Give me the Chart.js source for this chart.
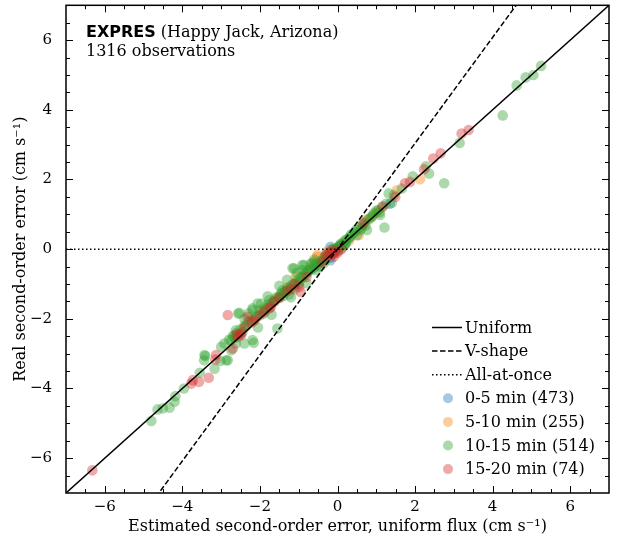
<!DOCTYPE html>
<html lang="en">
<head>
<meta charset="UTF-8">
<script src="https://cdn.jsdelivr.net/npm/chart.js"></script>
<style>
  html, body { margin: 0; padding: 0; background: #fff; }
</style>
</head>
<body>
<canvas id="chart" width="618" height="541"></canvas>
<script>
// data: [estimated, real] in cm/s
const blue = [[-0.18, 0.07], [-0.18, -0.32], [-0.1, -0.1], [0.0, 0.02], [0.05, 0.1], [-0.2, -0.25],
  [0.1, 0.12], [-0.05, -0.02], [1.35, 1.3], [-0.3, -0.22], [0.2, 0.15]];
const orange = [[2.13, 2.01], [1.53, 1.69], [0.89, 0.93], [0.55, 0.4], [-0.52, -0.17], [-0.52, -0.22],
  [-1.08, -0.8], [-0.35, -0.3], [0.3, 0.25], [-0.7, -0.55], [-0.25, -0.05], [1.0, 1.05],
  [-1.5, -1.35], [-1.9, -1.7], [-2.2, -2.05], [-0.9, -0.75], [0.15, 0.2], [-1.3, -1.1],
  [-0.6, -0.35], [0.75, 0.85]];
const green = [
  // centre
  [-0.4, -0.35], [-0.3, -0.28], [-0.25, -0.2], [-0.2, -0.15], [-0.15, -0.12], [-0.1, -0.05],
  [-0.05, 0.0], [0.0, 0.03], [0.05, 0.08], [0.1, 0.1], [0.15, 0.17], [0.2, 0.26], [0.25, 0.28],
  [0.3, 0.33], [-0.35, -0.4], [-0.45, -0.5], [0.12, 0.05], [0.02, -0.05], [-0.08, 0.02], [0.18, 0.12],
  [-0.28, -0.12], [-0.15, 0.0], [0.08, 0.15], [0.22, 0.18],
  // negative side
  [-1.12, -0.55], [-0.86, -0.46], [-0.65, -0.41], [-0.99, -0.94], [-1.29, -1.13], [-1.46, -1.27],
  [-1.97, -1.56], [-2.19, -1.75], [-2.53, -1.83], [-2.02, -1.75], [-1.55, -2.28], [-2.62, -2.33],
  [-2.19, -2.61], [-2.92, -2.71], [-3.43, -3.04], [-2.74, -2.9], [-1.16, -0.55], [-0.75, -0.65],
  [-0.8, -0.7], [-1.2, -1.05], [-1.35, -1.2], [-1.6, -1.45], [-1.7, -1.55], [-1.8, -1.6],
  [-1.85, -1.75], [-2.1, -1.95], [-2.3, -2.1], [-2.4, -2.2], [-2.5, -2.3], [-2.7, -2.5],
  [-2.8, -2.6], [-3.0, -2.8], [-1.0, -1.0], [-1.4, -1.35], [-0.6, -0.5], [-0.5, -0.45],
  [-1.1, -1.15], [-1.42, -1.18], [-1.76, -1.46], [-2.06, -1.56], [-0.69, -0.41], [-0.91, -0.46],
  [-4.8, -4.93], [-4.64, -4.6], [-4.5, -4.57], [-4.33, -4.55], [-4.2, -4.38], [-4.18, -4.22],
  [-3.96, -4.0], [-3.55, -3.55], [-3.17, -3.43], [-3.41, -3.07], [-3.44, -3.19], [-3.02, -3.21],
  [-2.87, -3.19], [-2.62, -2.71], [-2.4, -2.71], [-2.16, -2.69], [-2.66, -2.47], [-2.56, -1.85],
  [-2.19, -1.7], [-2.83, -3.19], [-2.6, -2.4], [-1.9, -1.85], [-1.25, -1.3], [-0.55, -0.6],
  [-0.35, -0.25], [-0.45, -0.35], [-0.55, -0.4], [-0.62, -0.55], [-0.7, -0.6], [-0.78, -0.62],
  [-0.85, -0.75], [-0.9, -0.82], [-0.95, -0.8], [-1.05, -0.9], [-1.08, -0.98], [-1.15, -1.0],
  [-1.22, -1.12], [-1.3, -1.18], [-1.38, -1.25], [-1.45, -1.32], [-1.52, -1.4], [-1.58, -1.38],
  [-1.65, -1.5], [-1.75, -1.62], [-1.82, -1.7], [-1.95, -1.82], [-2.05, -1.9], [-2.12, -2.0],
  [-2.25, -2.05], [-2.35, -2.2], [-2.45, -2.38], [-2.55, -2.45], [-2.65, -2.55], [-2.75, -2.62],
  [-1.8, -1.35], [-1.5, -1.05], [-1.3, -0.88], [-2.3, -1.85], [-0.9, -0.6], [-0.6, -0.3],
  [-1.2, -1.38], [-0.8, -0.98], [-1.7, -1.88], [-2.05, -2.25], [-1.05, -0.68], [-2.4, -2.0],
  // positive side
  [0.33, 0.35], [0.59, 0.55], [0.76, 0.55], [0.93, 1.02], [1.1, 0.98], [1.21, 0.62], [1.4, 1.33],
  [1.32, 1.6], [1.66, 1.74], [1.94, 2.09], [2.28, 2.38], [2.36, 2.17], [2.75, 1.89], [3.15, 3.05],
  [4.26, 3.84], [4.62, 4.7], [4.85, 4.93], [5.05, 5.0], [5.25, 5.26], [0.45, 0.5], [0.65, 0.7],
  [0.8, 0.85], [1.0, 1.1], [1.15, 1.2], [0.5, 0.4], [0.4, 0.45], [0.7, 0.78], [0.85, 0.9],
  [1.05, 1.12], [1.25, 1.3], [1.45, 1.55], [0.55, 0.62], [0.35, 0.42], [0.48, 0.55], [0.62, 0.6],
  [0.72, 0.68], [0.9, 0.95], [1.08, 1.05]];
const red = [[2.66, 2.75], [2.47, 2.6], [2.23, 2.29], [1.74, 1.89], [1.87, 1.93], [3.38, 3.42],
  [3.2, 3.32], [1.49, 1.5], [1.17, 1.23], [0.67, 0.74], [-0.1, -0.22], [-0.14, -0.03],
  [-0.31, -0.17], [-0.99, -1.08], [-0.95, -1.23], [-1.63, -1.51], [-1.72, -1.66], [-2.83, -1.89],
  [-2.32, -1.94], [-2.14, -2.04], [-2.49, -2.42], [-2.57, -2.52], [-3.13, -3.04], [-2.7, -2.85],
  [-2.49, -2.47], [-3.15, -3.17], [-3.32, -3.69], [-3.57, -3.81], [-3.73, -3.76], [-3.77, -3.86],
  [-6.32, -6.35], [-0.05, -0.05], [0.0, -0.1], [-0.2, -0.1], [-1.3, -1.2], [-1.9, -1.8],
  [-2.0, -1.9], [-1.5, -1.4], [-0.8, -0.8], [0.1, 0.0], [-0.25, -0.18], [-0.4, -0.38],
  [-1.1, -1.0], [-1.2, -1.15], [-1.75, -1.7], [-2.2, -2.1], [-2.4, -2.25], [-2.6, -2.45],
  [-0.15, -0.15], [-0.08, -0.12]];

const groupLabels = ['0-5 min (473)', '5-10 min (255)', '10-15 min (514)', '15-20 min (74)'];
const groupColors = ['rgba(31,119,180,0.4)', 'rgba(255,127,14,0.4)', 'rgba(44,160,44,0.4)', 'rgba(214,39,40,0.4)'];

// reference lines: real = slope * estimated
const lineNames = ['Uniform', 'V-shape', 'All-at-once'];
const lineSlopes = [1, 1.52, 0];
const lineDash = [[], [5.5, 2.5], [1.5, 2.5]];

const axisMin = -7, axisMax = 7;
const tickVals = [-6, -4, -2, 0, 2, 4, 6];

const serif = "'DejaVu Serif', serif";

function pts(arr) { return arr.map(p => ({x: p[0], y: p[1]})); }

const datasets = [];
[blue, orange, green, red].forEach((g, i) => {
  datasets.push({
    type: 'scatter', label: groupLabels[i], data: pts(g),
    backgroundColor: groupColors[i], borderWidth: 0,
    pointRadius: 5.3, pointHoverRadius: 5.3, order: 4 - i
  });
});
lineNames.forEach((n, i) => {
  datasets.push({
    type: 'line', label: n,
    data: [axisMin, axisMax].map(v => ({x: v, y: lineSlopes[i] * v})),
    borderColor: '#000', borderWidth: 1.5, borderDash: lineDash[i],
    pointRadius: 0, fill: false, order: 0
  });
});

function minus(v) { return v < 0 ? '\u2212' + Math.abs(v) : String(v); }

// inward ticks on all four sides + frame
const frameTicks = {
  id: 'frameTicks',
  afterDatasetsDraw(chart) {
    const {ctx, chartArea: a, scales: {x, y}} = chart;
    ctx.save();
    ctx.strokeStyle = '#000';
    ctx.lineWidth = 1;
    ctx.beginPath();
    for (let v = axisMin + 0.5; v < axisMax; v += 0.5) {
      const major = tickVals.includes(v);
      const len = major ? 7 : 4;
      const px = Math.round(x.getPixelForValue(v)) + 0.5;
      const py = Math.round(y.getPixelForValue(v)) + 0.5;
      ctx.moveTo(px, a.bottom); ctx.lineTo(px, a.bottom - len);
      ctx.moveTo(px, a.top); ctx.lineTo(px, a.top + len);
      ctx.moveTo(a.left, py); ctx.lineTo(a.left + len, py);
      ctx.moveTo(a.right, py); ctx.lineTo(a.right - len, py);
    }
    ctx.stroke();
    ctx.lineWidth = 1.5;
    ctx.strokeRect(a.left, a.top, a.right - a.left, a.bottom - a.top);
    ctx.restore();
  }
};

// title text and legend inside the axes
const annotations = {
  id: 'annotations',
  afterDraw(chart) {
    const {ctx, chartArea: a} = chart;
    ctx.save();
    ctx.fillStyle = '#000';
    ctx.textBaseline = 'alphabetic';
    ctx.textAlign = 'left';
    const tx = a.left + 20;
    ctx.font = "bold 16px 'DejaVu Sans', sans-serif";
    ctx.fillText('EXPRES', tx, 37);
    const w = ctx.measureText('EXPRES').width;
    ctx.font = '16px ' + serif;
    ctx.fillText(' (Happy Jack, Arizona)', tx + w, 37);
    ctx.fillText('1316 observations', tx, 56);

    const lx = 432, rowH = 23.6;
    let ly = 327.5;
    ctx.textBaseline = 'middle';
    lineNames.forEach((n, i) => {
      ctx.strokeStyle = '#000';
      ctx.lineWidth = 1.5;
      ctx.setLineDash(lineDash[i]);
      ctx.beginPath();
      ctx.moveTo(lx, ly); ctx.lineTo(lx + 30, ly);
      ctx.stroke();
      ctx.setLineDash([]);
      ctx.fillStyle = '#000';
      ctx.fillText(n, lx + 33, ly + 1);
      ly += rowH;
    });
    groupLabels.forEach((n, i) => {
      ctx.fillStyle = groupColors[i];
      ctx.beginPath();
      ctx.arc(lx + 16, ly, 5, 0, Math.PI * 2);
      ctx.fill();
      ctx.fillStyle = '#000';
      ctx.fillText(n, lx + 33, ly + 1);
      ly += rowH;
    });
    ctx.restore();
  }
};

new Chart(document.getElementById('chart'), {
  type: 'scatter',
  data: {datasets},
  options: {
    responsive: false,
    animation: false,
    events: [],
    layout: {padding: {top: 5, right: 9, left: 0, bottom: 0}},
    plugins: {legend: {display: false}, tooltip: {enabled: false}},
    scales: {
      x: {
        type: 'linear', min: axisMin, max: axisMax,
        afterBuildTicks: s => { s.ticks = tickVals.map(v => ({value: v})); },
        afterFit: s => { s.height = 48; s.paddingLeft = 0; s.paddingRight = 0; },
        grid: {display: false, drawTicks: false}, border: {display: false},
        ticks: {color: '#000', font: {family: serif, size: 15}, padding: 5, callback: minus},
        title: {display: true, text: 'Estimated second-order error, uniform flux (cm s\u207B\u00B9)',
          color: '#000', font: {family: serif, size: 16}, padding: {top: 0, bottom: 5}}
      },
      y: {
        type: 'linear', min: axisMin, max: axisMax,
        afterBuildTicks: s => { s.ticks = tickVals.map(v => ({value: v})); },
        afterFit: s => { s.width = 66; s.paddingTop = 0; s.paddingBottom = 0; },
        grid: {display: false, drawTicks: false}, border: {display: false},
        ticks: {color: '#000', font: {family: serif, size: 15}, padding: 14, callback: minus},
        title: {display: true, text: 'Real second-order error (cm s\u207B\u00B9)',
          color: '#000', font: {family: serif, size: 16}, padding: {top: 11, bottom: 0}}
      }
    }
  },
  plugins: [frameTicks, annotations]
});
</script>
</body>
</html>
